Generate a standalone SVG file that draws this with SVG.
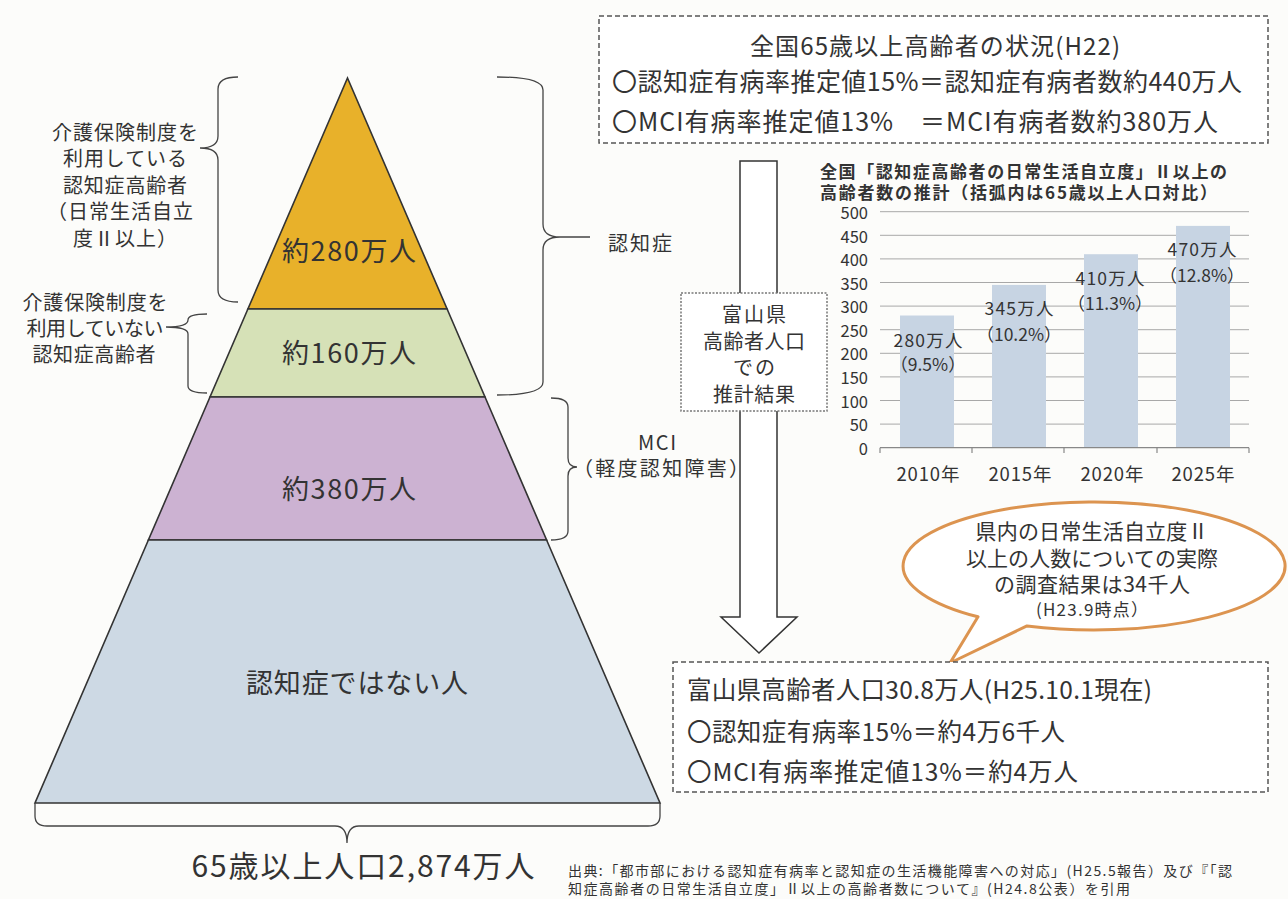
<svg xmlns="http://www.w3.org/2000/svg" width="1288" height="899" viewBox="0 0 1288 899">
<style>
text{font-family:"Noto Sans CJK JP","Noto Sans",sans-serif;fill:#333;dominant-baseline:central}
.m{text-anchor:middle}
.e{text-anchor:end}
.ln{fill:none;stroke:#444;stroke-width:1.3}
.lay{stroke:#333;stroke-width:1.6;stroke-linejoin:miter}
.dash{fill:#fff;stroke:#555;stroke-width:1.5;stroke-dasharray:5 3}
.dot{fill:#fff;stroke:#777;stroke-width:1.5;stroke-dasharray:2 1.5}
.grid{stroke:#a8a8a8;stroke-width:1}
.bar{fill:#c7d4e3}
.ax{font-size:16.5px}
.bl{font-size:17.5px}
.pc{font-size:17.5px}
</style>
<rect width="1288" height="899" fill="#fcfcfa"/>

<!-- Pyramid -->
<g id="layer-280">
<polygon class="lay" fill="#e8b12a" points="347.5,78 447.1,309 247.9,309"/>
<text class="m" x="349" y="249" font-size="27" textLength="134">約280万人</text>
</g>
<g id="layer-160">
<polygon class="lay" fill="#d6e1b7" points="247.9,309 447.1,309 485,397 210,397"/>
<text class="m" x="349" y="351" font-size="27" textLength="134">約160万人</text>
</g>
<g id="layer-380">
<polygon class="lay" fill="#ccb2d2" points="210,397 485,397 546.6,540 148.4,540"/>
<text class="m" x="349" y="487" font-size="27" textLength="134">約380万人</text>
</g>
<g id="layer-non">
<polygon class="lay" fill="#cdd9e4" points="148.4,540 546.6,540 660,803 35,803"/>
<text class="m" x="357" y="681" font-size="27" textLength="222">認知症ではない人</text>
</g>

<!-- Left labels -->
<g id="label-using-care">
<text class="m" x="125" y="131" font-size="20" textLength="146">介護保険制度を</text>
<text class="m" x="125" y="157" font-size="20" textLength="124">利用している</text>
<text class="m" x="125" y="184" font-size="20" textLength="124">認知症高齢者</text>
<text class="m" x="120" y="210" font-size="20" textLength="146">（日常生活自立</text>
<text class="m" x="125" y="237" font-size="20" textLength="104">度Ⅱ以上）</text>
</g>
<g id="label-not-using-care">
<text class="m" x="95" y="301" font-size="20" textLength="145">介護保険制度を</text>
<text class="m" x="95" y="327" font-size="20" textLength="137">利用していない</text>
<text class="m" x="94" y="353" font-size="20" textLength="123">認知症高齢者</text>
</g>
<g id="label-dementia">
<text x="608" y="242" font-size="20" textLength="64">認知症</text>
</g>
<g id="label-mci">
<text class="m" x="657" y="441" font-size="20" textLength="38">MCI</text>
<text class="m" x="661" y="467" font-size="20" textLength="176">（軽度認知障害）</text>
</g>
<g id="label-total">
<text class="m" x="363" y="864" font-size="30" textLength="343">65歳以上人口2,874万人</text>
</g>

<!-- Connectors: braces and arrow -->
<g id="connectors">
<path class="ln" d="M238,77 Q218,77 218,89 L218,136 Q218,148 200,148 Q218,148 218,160 L218,290 Q218,302 238,302"/>
<path class="ln" d="M207,314 Q188,314 188,320 Q188,327 166,327 Q188,327 188,334 L188,386 Q188,393 207,393"/>
<path class="ln" d="M497,77 Q543,77 543,90 L543,224 Q543,237 560,237 L590,237 M560,237 Q543,237 543,250 L543,382 Q543,395 497,395"/>
<path class="ln" d="M551,398 Q568,398 568,407 L568,458 Q568,467 577,467 Q568,467 568,476 L568,531 Q568,540 551,540"/>
<path class="ln" d="M35,803 L35,816 Q35,826 47,826 L335,826 Q347,826 347,843 Q347,826 359,826 L648,826 Q660,826 660,816 L660,803"/>
<polygon fill="#fff" stroke="#333" stroke-width="1.5" points="740,161 777,161 777,617 797,617 759,653 721,617 740,617"/>
</g>

<!-- Top box -->
<g id="box-national">
<rect class="dash" x="599" y="16" width="669" height="127"/>
<text class="m" x="935" y="44" font-size="24" textLength="370">全国65歳以上高齢者の状況(H22)</text>
<text x="612" y="80" font-size="25" textLength="630">〇認知症有病率推定値15%＝認知症有病者数約440万人</text>
<text x="612" y="120" font-size="25" textLength="606">〇MCI有病率推定値13%　＝MCI有病者数約380万人</text>
</g>

<!-- Middle box -->
<g id="box-estimate">
<rect class="dot" x="681" y="293" width="146" height="118"/>
<text class="m" x="754" y="313" font-size="20" textLength="64">富山県</text>
<text class="m" x="754" y="340" font-size="20" textLength="102">高齢者人口</text>
<text class="m" x="754" y="366" font-size="20" textLength="42">での</text>
<text class="m" x="754" y="393" font-size="20" textLength="82">推計結果</text>
</g>

<!-- Chart -->
<g id="chart">
<text x="820" y="170" font-size="17" font-weight="bold" textLength="407">全国「認知症高齢者の日常生活自立度」Ⅱ以上の</text>
<text x="820" y="191" font-size="17" font-weight="bold" textLength="397">高齢者数の推計（括弧内は65歳以上人口対比）</text>
<g class="grid">
<line x1="880" y1="211.7" x2="1249" y2="211.7"/>
<line x1="880" y1="235.3" x2="1249" y2="235.3"/>
<line x1="880" y1="258.9" x2="1249" y2="258.9"/>
<line x1="880" y1="282.5" x2="1249" y2="282.5"/>
<line x1="880" y1="306.1" x2="1249" y2="306.1"/>
<line x1="880" y1="329.7" x2="1249" y2="329.7"/>
<line x1="880" y1="353.3" x2="1249" y2="353.3"/>
<line x1="880" y1="376.9" x2="1249" y2="376.9"/>
<line x1="880" y1="400.5" x2="1249" y2="400.5"/>
<line x1="880" y1="424.1" x2="1249" y2="424.1"/>
</g>
<rect class="bar" x="900" y="315.5" width="54" height="132.2"/>
<rect class="bar" x="992" y="284.9" width="54" height="162.8"/>
<rect class="bar" x="1084" y="254.2" width="54" height="193.5"/>
<rect class="bar" x="1176" y="225.9" width="54" height="221.8"/>
<g stroke="#888" stroke-width="1.2">
<line x1="880" y1="447.7" x2="1249" y2="447.7"/>
<line x1="880" y1="447.7" x2="880" y2="453"/>
<line x1="972" y1="447.7" x2="972" y2="453"/>
<line x1="1064" y1="447.7" x2="1064" y2="453"/>
<line x1="1157" y1="447.7" x2="1157" y2="453"/>
<line x1="1249" y1="447.7" x2="1249" y2="453"/>
</g>
<text class="e ax" x="868" y="212">500</text>
<text class="e ax" x="868" y="235.5">450</text>
<text class="e ax" x="868" y="259">400</text>
<text class="e ax" x="868" y="282.5">350</text>
<text class="e ax" x="868" y="306">300</text>
<text class="e ax" x="868" y="329.7">250</text>
<text class="e ax" x="868" y="353.3">200</text>
<text class="e ax" x="868" y="376.9">150</text>
<text class="e ax" x="868" y="400.5">100</text>
<text class="e ax" x="868" y="424.1">50</text>
<text class="e ax" x="868" y="447.7">0</text>
<text class="m" x="928" y="473" font-size="18.5" textLength="63">2010年</text>
<text class="m" x="1020" y="473" font-size="18.5" textLength="63">2015年</text>
<text class="m" x="1112" y="473" font-size="18.5" textLength="63">2020年</text>
<text class="m" x="1203" y="473" font-size="18.5" textLength="63">2025年</text>
<text class="m bl" x="928" y="339" textLength="69">280万人</text>
<text class="m pc" x="928" y="363">（9.5%）</text>
<text class="m bl" x="1019" y="307" textLength="69">345万人</text>
<text class="m pc" x="1019" y="333">（10.2%）</text>
<text class="m bl" x="1110" y="277" textLength="69">410万人</text>
<text class="m pc" x="1110" y="302">（11.3%）</text>
<text class="m bl" x="1202" y="248" textLength="69">470万人</text>
<text class="m pc" x="1202" y="274">（12.8%）</text>
</g>

<!-- Speech bubble -->
<g id="bubble">
<path d="M978,616.8 A191,64 0 1 1 1027,625.9 L950,663 Z" fill="#fff" stroke="#dc9450" stroke-width="3" stroke-linejoin="round"/>
<text class="m" x="1092" y="530" font-size="21" textLength="233">県内の日常生活自立度Ⅱ</text>
<text class="m" x="1092" y="557" font-size="21" textLength="252">以上の人数についての実際</text>
<text class="m" x="1092" y="583" font-size="21" textLength="196">の調査結果は34千人</text>
<text class="m" x="1092" y="608" font-size="17" textLength="112">(H23.9時点）</text>
</g>

<!-- Bottom box -->
<g id="box-toyama">
<rect class="dash" x="673" y="662" width="595" height="130"/>
<text x="687" y="688" font-size="24.5" textLength="465">富山県高齢者人口30.8万人(H25.10.1現在)</text>
<text x="687" y="730" font-size="24.5" textLength="378">〇認知症有病率15%＝約4万6千人</text>
<text x="687" y="770" font-size="24.5" textLength="391">〇MCI有病率推定値13%＝約4万人</text>
</g>

<!-- Citation -->
<g id="citation">
<text x="568" y="870" font-size="14" textLength="664">出典:「都市部における認知症有病率と認知症の生活機能障害への対応」(H25.5報告）及び『「認</text>
<text x="568" y="888" font-size="14" textLength="562">知症高齢者の日常生活自立度」Ⅱ以上の高齢者数について』(H24.8公表）を引用</text>
</g>
</svg>
